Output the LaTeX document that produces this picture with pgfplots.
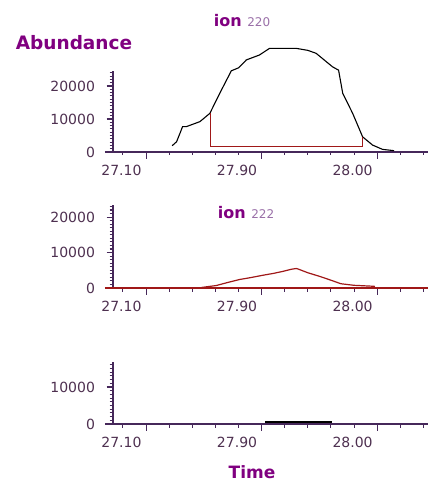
\documentclass[border=0pt]{standalone}
\usepackage{pgfplots}
\pgfplotsset{compat=1.18}
\usepackage{fontspec}
\setmainfont{DejaVu Sans}
\definecolor{axcol}{HTML}{46285A}
\definecolor{lblcol}{HTML}{4E3050}
\definecolor{ttlcol}{HTML}{800080}
\definecolor{numcol}{HTML}{9A70A8}
\definecolor{redline}{HTML}{A01818}
% abundance values in thousands
\pgfplotsset{
  panel/.style={
    scale only axis, width=315pt,
    xmin=-1.43, xmax=12.2,
    axis x line=bottom, axis y line=left,
    axis line style={draw=none},
    tick align=outside,
    major tick length=6.5pt, minor tick length=3.5pt,
    xtick style={draw=none},
    ytick style={draw=axcol, line width=1.1pt},
    xtick={0,5,10}, xticklabels={27.10,27.90,28.00},
    ytick={0,10,20}, yticklabels={0,10000,20000},
    minor ytick={1,2,...,24},
    ticklabel style={font=\fontsize{14}{14}\selectfont, text=lblcol},
    xticklabel style={anchor=north east, xshift=-1pt, yshift=5pt},
    yticklabel style={anchor=east, xshift=-8pt},
    clip=false,
  },
  xtk/.style={axcol, line width=1.1pt, ycomb, no marks},
  axl/.style={axcol, line width=1.1pt, no marks},
}
\begin{document}
\begin{tikzpicture}
\useasboundingbox (0,0) rectangle (438pt,494pt);
% panel 1  (1 unit = 3.3pt)
\begin{axis}[panel, at={(113pt,333.75pt)}, anchor=south west, height=89.25pt, ymin=-2.5, ymax=24.545]
\addplot[axl] coordinates {(-1.78,0)(12.2,0)};
\addplot[axl] coordinates {(-1.43,0)(-1.43,24.545)};
\addplot[xtk] coordinates {(0,-2.12)(5,-2.12)(10,-2.12)};
\addplot[xtk] coordinates {(-1,-1.06)(1,-1.06)(2,-1.06)(3,-1.06)(4,-1.06)(6,-1.06)(7,-1.06)(8,-1.06)(9,-1.06)(11,-1.06)(12,-1.06)};
\addplot[black, line width=1.1pt] coordinates {
(1.13,1.9)(1.32,3.1)(1.47,5.7)(1.58,7.7)(1.75,7.7)(2.33,9.2)(2.76,11.7)
(3.19,17.8)(3.69,24.6)(4.0,25.5)(4.34,27.9)(4.91,29.4)(5.34,31.4)(6.5,31.4)
(7.0,30.8)(7.36,29.9)(8.07,25.8)(8.33,24.8)(8.51,17.8)(8.94,11.7)(9.37,4.6)
(9.8,2.1)(10.23,0.8)(10.73,0.4)};
\addplot[redline, line width=1.1pt] coordinates {(2.77,11.7)(2.77,1.6)(9.38,1.6)(9.38,4.6)};
\end{axis}
% panel 2  (1 unit = 3.55pt)
\begin{axis}[panel, at={(113pt,197.48pt)}, anchor=south west, height=91.52pt, ymin=-2.4, ymax=23.4]
\addplot[axl] coordinates {(-1.43,0)(-1.43,23.4)};
\addplot[xtk] coordinates {(0,-1.97)(5,-1.97)(10,-1.97)};
\addplot[xtk] coordinates {(-1,-0.99)(1,-0.99)(2,-0.99)(3,-0.99)(4,-0.99)(6,-0.99)(7,-0.99)(8,-0.99)(9,-0.99)(11,-0.99)(12,-0.99)};
\addplot[redline, line width=1.1pt] coordinates {(-1.78,0)(12.2,0)};
\addplot[redline, line width=1.2pt] coordinates {
(2.4,0.15)(3.04,0.7)(3.5,1.5)(4.05,2.4)(4.5,2.9)(5.06,3.6)(5.5,4.1)(5.93,4.7)
(6.3,5.3)(6.5,5.5)(6.6,5.3)(7.0,4.3)(7.5,3.3)(8.0,2.2)(8.43,1.2)(9.0,0.76)(9.87,0.48)(9.9,0)};
\end{axis}
% panel 3  (1 unit = 3.7pt)
\begin{axis}[panel, at={(113pt,61.49pt)}, anchor=south west, height=70.51pt, ymin=-2.3, ymax=16.75, minor ytick={1,2,...,16}]
\addplot[axl] coordinates {(-1.78,0)(12.2,0)};
\addplot[axl] coordinates {(-1.43,0)(-1.43,16.75)};
\addplot[xtk] coordinates {(0,-1.89)(5,-1.89)(10,-1.89)};
\addplot[xtk] coordinates {(-1,-0.95)(1,-0.95)(2,-0.95)(3,-0.95)(4,-0.95)(6,-0.95)(7,-0.95)(8,-0.95)(9,-0.95)(11,-0.95)(12,-0.95)};
\addplot[black, line width=1.8pt] coordinates {(5.15,0.45)(8.05,0.45)};
\end{axis}
\node[text=ttlcol, font=\bfseries\fontsize{16}{16}\selectfont] at (242pt,473pt) {ion \textcolor{numcol}{\mdseries\fontsize{12}{12}\selectfont 220}};
\node[text=ttlcol, font=\bfseries\fontsize{18.5}{18.5}\selectfont] at (74pt,451pt) {Abundance};
\node[text=ttlcol, font=\bfseries\fontsize{16}{16}\selectfont] at (246pt,281pt) {ion \textcolor{numcol}{\mdseries\fontsize{12}{12}\selectfont 222}};
\node[text=ttlcol, font=\bfseries\fontsize{17}{17}\selectfont] at (252pt,22pt) {Time};
\end{tikzpicture}
\end{document}
